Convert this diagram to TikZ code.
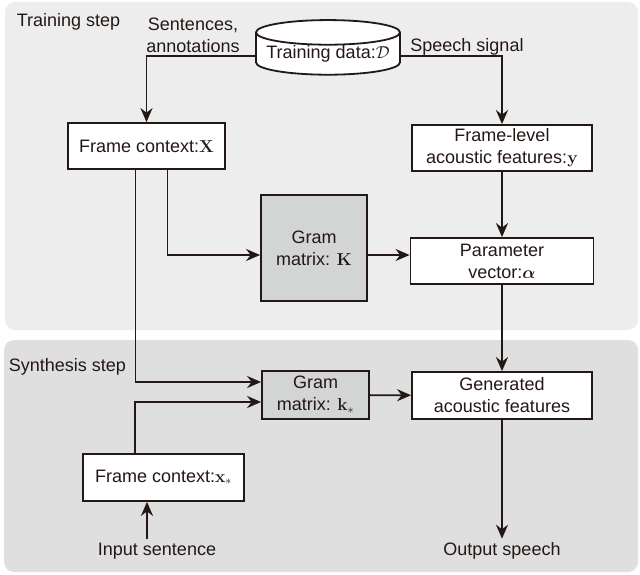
\documentclass[tikz,border=0pt]{standalone}
\usepackage{amsmath}
\usepackage[no-math]{fontspec}
\setmainfont{Liberation Sans}
\usetikzlibrary{shapes.geometric,arrows.meta}

\definecolor{inkc}{HTML}{231815}
\definecolor{trainbg}{HTML}{EDEDED}
\definecolor{synthbg}{HTML}{DFDFDF}
\definecolor{gramc}{HTML}{D3D4D4}

\begin{document}
\begin{tikzpicture}[x=1pt,y=-1pt,
  font=\fontsize{18}{22}\selectfont,
  line width=1.8pt, inkc,
  box/.style={draw=inkc, fill=white, text=inkc, align=center, inner sep=0pt},
  gram/.style={box, fill=gramc},
  lbl/.style={text=inkc, align=center, inner sep=3pt},
  arr/.style={draw=inkc, -{Stealth[length=14pt,width=12pt]}}]
  \useasboundingbox (0,0) rectangle (640,575);

  % the two steps
  \fill[trainbg, rounded corners=10pt] (5,2) rectangle (638,330);
  \fill[synthbg, rounded corners=10pt] (4,340) rectangle (638,572);
  \node[lbl, anchor=west] (trainstep) at (13,22) {Training step};
  \node[lbl, anchor=west] (synthstep) at (5,367) {Synthesis step};

  \node[cylinder, shape border rotate=90, draw=inkc, fill=white, aspect=0.2,
        minimum width=144pt, minimum height=50pt, inner sep=0pt] (data) at (328,54) {Training data:$\mathcal{D}$};
  \node[lbl] (sent) at (193,35) {Sentences,\\annotations};
  \node[lbl] (speech) at (467,47) {Speech signal};

  \node[box, minimum width=157pt, minimum height=46pt] (fx) at (146.5,146) {Frame context:$\mathbf{X}$};
  \node[box, minimum width=180pt, minimum height=46pt] (fy) at (502,148) {Frame-level\\acoustic features:$\mathbf{y}$};
  \node[gram, minimum width=106pt, minimum height=106pt] (gk) at (314,248) {Gram\\matrix: $\mathbf{K}$};
  \node[box, minimum width=183pt, minimum height=46pt] (param) at (502,261) {Parameter\\vector:$\boldsymbol{\alpha}$};
  \node[gram, minimum width=107pt, minimum height=48pt] (gks) at (315.5,395) {Gram\\matrix: $\mathbf{k}_*$};
  \node[box, minimum width=180pt, minimum height=47pt] (gen) at (502,395.5) {Generated\\acoustic features};
  \node[box, minimum width=161pt, minimum height=47pt] (fxs) at (163.5,477.5) {Frame context:$\mathbf{x}_*$};
  \node[lbl] (insent) at (157,551) {Input sentence};
  \node[lbl] (outsp) at (502,551) {Output speech};

  % connectors
  \draw[arr] ([yshift=-2pt]data.west) -| (fx.north);
  \draw[arr] ([yshift=-2pt]data.east) -| (fy.north);
  \draw[arr] (fy) -- (param);
  \draw[arr] ([xshift=21pt]fx.south) |- ([yshift=-7pt]gk.west);
  \draw[arr] ([yshift=-7pt]gk.east) -- ([yshift=-7pt]gk.east -| param.west);
  \draw[arr] ([xshift=-11pt]fx.south) |- ([yshift=13pt]gks.west);
  \draw[arr] ([xshift=-28.5pt]fxs.north) |- ([yshift=-7pt]gks.west);
  \draw[arr] (gks) -- (gen);
  \draw[arr] (param) -- (gen);
  \draw[arr] ([xshift=-10pt]insent.north) -- ([xshift=-10pt]insent.north |- fxs.south);
  \draw[arr] (gen) -- (outsp);
\end{tikzpicture}
\end{document}
